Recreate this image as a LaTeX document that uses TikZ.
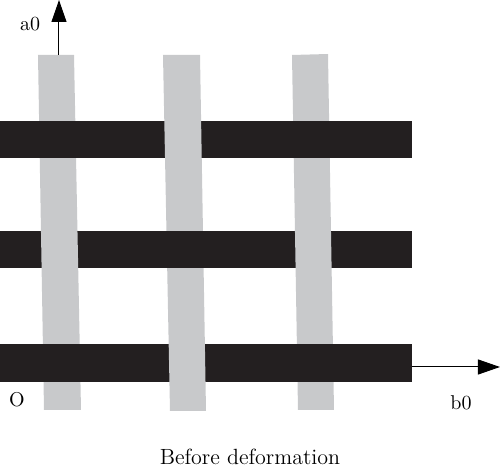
\documentclass[tikz,border=0pt]{standalone}
\usetikzlibrary{arrows.meta}

\definecolor{warpgray}{RGB}{200,201,203}
\definecolor{weftblack}{RGB}{35,31,32}

\begin{document}
\begin{tikzpicture}[x=0.5pt, y=-0.5pt,
    warp/.style={fill=warpgray},
    weft/.style={fill=weftblack},
    axisarrow/.style={line width=0.5pt, -{Triangle[length=11pt, width=7.5pt]}},
    lbl/.style={font=\fontsize{10}{12}\selectfont, inner sep=0pt},
    caption/.style={font=\fontsize{11}{13}\selectfont, inner sep=0pt}]
    \useasboundingbox (0,0) rectangle (500,471);

    % warp yarns (grey, a little tilted)
    \coordinate (W1a) at (38,55);  \coordinate (W1b) at (74,55);
    \coordinate (W1c) at (81,410); \coordinate (W1d) at (44,410);
    \coordinate (W2a) at (163,55); \coordinate (W2b) at (200,55);
    \coordinate (W2c) at (206,411); \coordinate (W2d) at (170,411);
    \coordinate (W3a) at (292,55); \coordinate (W3b) at (328,54);
    \coordinate (W3c) at (334,410); \coordinate (W3d) at (298,410);
    % axes
    \coordinate (O) at (59,55);
    \coordinate (A0) at (59,0);
    \coordinate (B1) at (412,367);
    \coordinate (B0) at (500,367);

    \fill[warp] (W1a) -- (W1b) -- (W1c) -- (W1d) -- cycle;
    \fill[warp] (W2a) -- (W2b) -- (W2c) -- (W2d) -- cycle;
    \fill[warp] (W3a) -- (W3b) -- (W3c) -- (W3d) -- cycle;

    % weft yarns (black)
    \fill[weft] (0,121) rectangle (412,158);
    \fill[weft] (0,231) rectangle (412,268);
    \fill[weft] (0,344) rectangle (412,382);

    % warp over weft
    \begin{scope}
        \clip (0,121) rectangle (412,158) (0,344) rectangle (412,382);
        \fill[warp] (W2a) -- (W2b) -- (W2c) -- (W2d) -- cycle;
    \end{scope}
    \begin{scope}
        \clip (0,231) rectangle (412,268);
        \fill[warp] (W1a) -- (W1b) -- (W1c) -- (W1d) -- cycle;
        \fill[warp] (W3a) -- (W3b) -- (W3c) -- (W3d) -- cycle;
    \end{scope}

    \draw[axisarrow] (O) -- (A0);
    \draw[axisarrow] (B1) -- (B0);

    \node[lbl] (la) at (30,24) {a0};
    \node[lbl] (lo) at (17,400) {O};
    \node[lbl] (lb) at (461,403) {b0};
    \node[caption] (cap) at (250,457) {Before deformation};
\end{tikzpicture}
\end{document}
